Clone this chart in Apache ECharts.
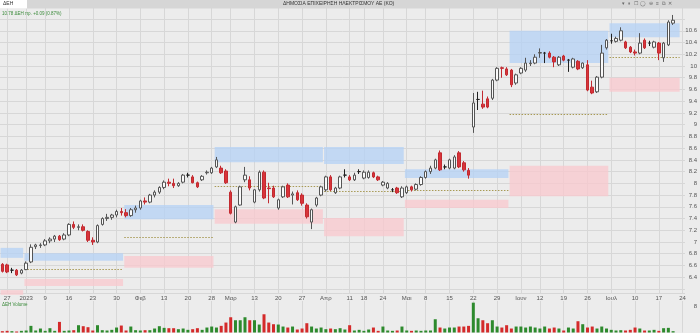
<!DOCTYPE html>
<html><head><meta charset="utf-8">
<script src="https://cdn.jsdelivr.net/npm/echarts@6/dist/echarts.min.js"></script>
<style>html,body{margin:0;padding:0;background:#ececec}#c{width:700px;height:333px}</style>
</head><body><div id="c"></div>
<script>
// ---- categories (trading days + two future days) ----
const dates = [
'2022-12-23','2022-12-27','2022-12-28','2022-12-29','2022-12-30',
'2023-01-02','2023-01-03','2023-01-04','2023-01-05',
'2023-01-09','2023-01-10','2023-01-11','2023-01-12','2023-01-13',
'2023-01-16','2023-01-17','2023-01-18','2023-01-19','2023-01-20',
'2023-01-23','2023-01-24','2023-01-25','2023-01-26','2023-01-27',
'2023-01-30','2023-01-31','2023-02-01','2023-02-02','2023-02-03',
'2023-02-06','2023-02-07','2023-02-08','2023-02-09','2023-02-10',
'2023-02-13','2023-02-14','2023-02-15','2023-02-16','2023-02-17',
'2023-02-20','2023-02-21','2023-02-22','2023-02-23','2023-02-24',
'2023-02-28','2023-03-01','2023-03-02','2023-03-03',
'2023-03-06','2023-03-07','2023-03-08','2023-03-09','2023-03-10',
'2023-03-13','2023-03-14','2023-03-15','2023-03-16','2023-03-17',
'2023-03-20','2023-03-21','2023-03-22','2023-03-23','2023-03-24',
'2023-03-27','2023-03-28','2023-03-29','2023-03-30','2023-03-31',
'2023-04-03','2023-04-04','2023-04-05','2023-04-06','2023-04-07',
'2023-04-11','2023-04-12','2023-04-13',
'2023-04-18','2023-04-19','2023-04-20','2023-04-21',
'2023-04-24','2023-04-25','2023-04-26','2023-04-27','2023-04-28',
'2023-05-02','2023-05-03','2023-05-04','2023-05-05',
'2023-05-08','2023-05-09','2023-05-10','2023-05-11','2023-05-12',
'2023-05-15','2023-05-16','2023-05-17','2023-05-18','2023-05-19',
'2023-05-22','2023-05-23','2023-05-24','2023-05-25','2023-05-26',
'2023-05-29','2023-05-30','2023-05-31','2023-06-01','2023-06-02',
'2023-06-06','2023-06-07','2023-06-08','2023-06-09',
'2023-06-12','2023-06-13','2023-06-14','2023-06-15','2023-06-16',
'2023-06-19','2023-06-20','2023-06-21','2023-06-22','2023-06-23',
'2023-06-26','2023-06-27','2023-06-28','2023-06-29','2023-06-30',
'2023-07-03','2023-07-04','2023-07-05','2023-07-06','2023-07-07',
'2023-07-10','2023-07-11','2023-07-12','2023-07-13','2023-07-14',
'2023-07-17','2023-07-18','2023-07-19','2023-07-20',
'2023-07-21','2023-07-24'
];
// ---- x tick labels ----
const tickDates  = ['2022-12-27','2023-01-02','2023-01-09','2023-01-16','2023-01-23','2023-01-30','2023-02-06','2023-02-13','2023-02-20','2023-02-28','2023-03-06','2023-03-13','2023-03-20','2023-03-27','2023-04-03','2023-04-11','2023-04-18','2023-04-24','2023-05-02','2023-05-08','2023-05-15','2023-05-22','2023-05-29','2023-06-06','2023-06-12','2023-06-19','2023-06-26','2023-07-03','2023-07-10','2023-07-17','2023-07-24'];
const tickLabels = ['27','2023','9','16','23','30','Φεβ','13','20','28','Μαρ','13','20','27','Απρ','11','18','24','Μαι','8','15','22','29','Ιουν','12','19','26','Ιουλ','10','17','24'];

// ---- OHLC ----
const opens = [6.62,6.61,6.52,6.52,6.47,6.53,6.66,6.92,6.94,6.95,7.02,7.05,7.10,7.05,7.12,7.30,7.25,7.26,7.18,7.03,7.00,7.30,7.40,7.42,7.46,7.52,7.50,7.45,7.55,7.58,7.70,7.68,7.80,7.85,7.93,8.02,8.00,7.96,8.02,8.14,8.11,8.01,8.06,8.18,8.18,8.28,8.26,8.21,7.85,7.34,7.63,8.06,8.06,7.68,7.89,8.19,7.92,7.92,7.58,7.77,7.97,7.80,7.84,7.80,7.63,7.34,7.63,7.80,7.89,8.11,7.84,7.92,8.14,8.11,8.06,8.20,8.09,8.10,8.18,8.11,7.97,7.92,7.89,7.92,7.77,7.84,7.94,7.90,7.98,8.10,8.20,8.26,8.52,8.28,8.26,8.26,8.52,8.35,8.22,8.96,9.43,9.35,9.44,9.45,9.76,9.97,9.95,9.93,9.71,9.88,9.93,10.04,10.05,10.22,10.22,10.22,10.15,10.02,10.17,10.10,9.98,10.08,9.97,10.02,9.64,9.56,9.81,10.31,10.43,10.42,10.44,10.41,10.32,10.24,10.22,10.44,10.39,10.32,10.39,10.14,10.36,10.73];
const highs = [6.64,6.63,6.56,6.54,6.54,6.67,6.96,6.97,6.98,7.05,7.08,7.12,7.12,7.15,7.32,7.35,7.30,7.30,7.20,7.08,7.30,7.42,7.48,7.48,7.55,7.58,7.56,7.58,7.62,7.72,7.76,7.82,7.88,7.95,8.05,8.08,8.08,8.02,8.16,8.18,8.14,8.03,8.14,8.22,8.28,8.45,8.30,8.24,7.88,7.62,7.96,8.28,8.12,7.90,8.22,8.22,8.01,7.96,7.74,7.96,8.00,7.86,7.88,7.83,7.66,7.57,7.77,7.96,8.13,8.14,7.94,8.13,8.24,8.14,8.18,8.24,8.22,8.22,8.20,8.13,8.04,8.02,7.92,7.94,7.95,7.96,7.96,8.00,8.12,8.22,8.30,8.42,8.56,8.32,8.42,8.48,8.55,8.38,8.26,9.54,9.56,9.58,9.48,9.78,9.98,9.99,9.98,9.95,9.87,9.98,10.14,10.10,10.20,10.30,10.24,10.25,10.17,10.17,10.19,10.12,10.14,10.10,10.06,10.10,9.75,9.83,10.36,10.46,10.55,10.50,10.66,10.43,10.34,10.28,10.56,10.47,10.43,10.43,10.41,10.41,10.78,10.87];
const lows = [6.48,6.47,6.47,6.42,6.45,6.52,6.64,6.88,6.90,6.93,6.98,7.00,7.02,7.03,7.10,7.22,7.20,7.18,7.00,6.95,6.98,7.28,7.36,7.38,7.42,7.45,7.42,7.43,7.50,7.55,7.64,7.66,7.76,7.82,7.90,7.95,7.92,7.94,8.00,8.10,8.00,7.92,8.04,8.15,8.16,8.26,8.16,7.99,7.47,7.32,7.62,8.02,7.88,7.66,7.86,7.73,7.66,7.75,7.55,7.75,7.75,7.64,7.70,7.62,7.40,7.22,7.60,7.78,7.86,7.87,7.82,7.90,8.10,8.04,8.04,8.16,8.07,8.08,8.09,8.04,7.95,7.90,7.85,7.82,7.75,7.82,7.86,7.88,7.96,8.08,8.16,8.24,8.21,8.24,8.24,8.24,8.26,8.20,8.08,8.86,9.25,9.27,9.28,9.42,9.74,9.80,9.83,9.64,9.68,9.86,9.90,10.00,10.03,10.14,10.05,10.13,9.98,10.00,10.08,9.90,9.96,9.93,9.95,9.57,9.52,9.54,9.79,10.28,10.38,10.40,10.42,10.29,10.22,10.18,10.20,10.29,10.34,10.30,10.10,10.07,10.34,10.70];
const closes = [6.50,6.49,6.52,6.44,6.52,6.64,6.91,6.95,6.95,7.02,7.05,7.10,7.04,7.12,7.30,7.25,7.26,7.20,7.03,7.00,7.28,7.40,7.42,7.46,7.52,7.50,7.45,7.55,7.58,7.70,7.68,7.80,7.85,7.93,8.02,8.00,7.96,8.00,8.14,8.14,8.01,7.94,8.12,8.19,8.26,8.40,8.18,8.01,7.49,7.60,7.94,8.14,7.92,7.89,8.19,7.75,7.91,7.77,7.72,7.94,7.77,7.82,7.72,7.66,7.43,7.55,7.75,7.94,8.11,7.89,7.92,8.11,8.14,8.06,8.14,8.20,8.19,8.19,8.11,8.06,8.02,8.00,7.89,7.84,7.92,7.94,7.89,7.98,8.10,8.20,8.26,8.40,8.23,8.28,8.40,8.45,8.28,8.23,8.14,9.37,9.43,9.30,9.30,9.76,9.96,9.96,9.85,9.68,9.85,9.96,10.05,10.05,10.15,10.23,10.22,10.15,10.07,10.15,10.10,10.10,10.12,9.95,10.05,9.59,9.54,9.81,10.22,10.44,10.43,10.47,10.60,10.31,10.24,10.22,10.39,10.31,10.39,10.41,10.22,10.39,10.75,10.78];
// ---- volume (millions) ----
const volumes = [0.4,0.5,0.4,0.3,0.5,0.6,2.0,0.6,1.2,0.5,1.3,0.5,3.2,0.5,0.6,0.7,2.2,1.9,1.6,0.6,2.2,0.7,0.6,0.8,1.5,2.1,0.6,1.8,0.7,0.6,0.7,0.7,1.2,1.9,1.4,1.3,1.3,1.0,1.2,0.8,1.0,1.3,0.8,1.5,1.8,1.5,2.0,3.0,4.6,3.7,3.7,4.6,3.7,3.7,2.4,5.5,3.0,2.5,2.4,1.8,1.5,1.8,0.9,1.2,2.8,1.8,1.2,1.5,1.0,1.2,1.0,1.3,0.9,2.2,0.6,0.8,0.5,0.9,1.5,0.5,1.8,0.6,0.5,0.6,1.8,0.6,0.5,0.6,0.5,0.6,0.6,4.0,1.5,1.2,1.5,1.5,1.8,1.8,2.0,9.0,4.3,3.7,2.8,3.7,1.8,1.5,2.2,1.2,1.8,1.8,1.5,1.8,1.5,1.2,1.8,1.2,1.5,1.2,0.6,1.5,1.2,3.4,2.5,1.5,1.8,1.2,1.8,1.2,0.8,0.6,0.7,0.6,0.8,1.5,1.2,0.6,0.6,0.8,0.5,1.3,1.4,0.4];

// ---- monthly zones: blue band, red band, pivot line ----
const zoneStart = ['2022-12-23','2023-01-02','2023-02-01','2023-03-01','2023-04-03','2023-05-02','2023-06-01','2023-07-03'];
const zoneEnd   = ['2022-12-30','2023-01-31','2023-02-28','2023-03-31','2023-04-28','2023-05-31','2023-06-30','2023-07-21'];
const blueLow   = [6.73,6.68,7.39,8.36,8.33,8.09,10.05,10.49];
const blueHigh  = [6.90,6.81,7.63,8.62,8.62,8.24,10.60,10.73];
const redLow    = [6.10,6.25,6.56,7.31,7.10,7.58,7.78,9.56];
const redHigh   = [6.18,6.37,6.76,7.56,7.41,7.72,8.30,9.80];
const pivots    = [null,6.54,7.09,7.96,7.87,7.89,9.18,10.15];

const tickMap = {};
tickDates.forEach((d,i)=>tickMap[d]=tickLabels[i]);
const showTick = (idx, val) => !!tickMap[dates[idx]];

const candleData = opens.map((o,i)=>[o, closes[i], lows[i], highs[i]]);
const volData = volumes.map((v,i)=>({value:v, itemStyle:{color: closes[i] >= opens[i] ? '#2d8a2d' : '#d42a2a'}}));
const zoneData = zoneStart.map((s,i)=>[dates.indexOf(s), dates.indexOf(zoneEnd[i]), blueLow[i], blueHigh[i], redLow[i], redHigh[i], pivots[i] == null ? NaN : pivots[i]]);
const lastClose = closes[closes.length-1];
const curPivot = pivots[pivots.length-1];
const lastVol = volumes[volumes.length-1];

function zoneItem(params, api){
  const s = api.value(0), e = api.value(1);
  const bw = api.size([1,0])[0];
  const x0 = api.coord([s, 0])[0] - bw/2 + 0.6;
  const x1 = api.coord([e, 0])[0] + bw/2 - 0.6;
  const yb1 = api.coord([s, api.value(3)])[1], yb0 = api.coord([s, api.value(2)])[1];
  const yr1 = api.coord([s, api.value(5)])[1], yr0 = api.coord([s, api.value(4)])[1];
  const children = [
    {type:'rect', shape:{x:x0, y:yb1, width:x1-x0, height:yb0-yb1}, style:{fill:'rgba(180,210,245,0.75)'}},
    {type:'rect', shape:{x:x0, y:yr1, width:x1-x0, height:yr0-yr1}, style:{fill:'rgba(250,200,205,0.75)'}}
  ];
  const pv = api.value(6);
  if (!isNaN(pv)) {
    const yp = Math.round(api.coord([s, pv])[1]) + 0.5;
    children.push({type:'line', shape:{x1:x0, y1:yp, x2:x1, y2:yp}, style:{stroke:'#a89a55', lineWidth:1, lineDash:[1.5,1.5]}});
  }
  return {type:'group', children};
}

const fmtY = v => (v > 10.7 || v < 6.3) ? '' : String(Math.round(v*10)/10);

const chart = echarts.init(document.getElementById('c'), null, {renderer:'canvas'});
chart.setOption({
  animation:false,
  backgroundColor:'#ececec',
  textStyle:{fontFamily:'Liberation Sans, Arial, sans-serif'},
  grid:[
    {left:-1.2, width:688.3, top:0, height:293},
    {left:-1.2, width:688.3, top:301, height:31.5}
  ],
  xAxis:[
    {type:'category', data:dates, gridIndex:0, boundaryGap:true,
     axisLine:{show:false}, axisTick:{show:false, alignWithLabel:true, interval:showTick},
     axisLabel:{interval:showTick, formatter:v=>tickMap[v]||'', fontSize:6, color:'#555', margin:2},
     splitLine:{show:true, alignWithLabel:true, interval:showTick, lineStyle:{color:'#d7d7d7', width:1}}},
    {type:'category', data:dates, gridIndex:1, boundaryGap:true,
     axisLine:{show:false}, axisTick:{show:false, alignWithLabel:true, interval:showTick},
     axisLabel:{show:false},
     splitLine:{show:true, alignWithLabel:true, interval:showTick, lineStyle:{color:'#d7d7d7', width:1}}}
  ],
  yAxis:[
    {type:'value', gridIndex:0, position:'right', min:6.131, max:11.125, splitNumber:24,
     axisLine:{show:false}, axisTick:{show:false},
     axisLabel:{formatter:fmtY, fontSize:6, color:'#555', align:'right', margin:12},
     splitLine:{show:true, lineStyle:{color:'#d7d7d7', width:1}}},
    {type:'value', gridIndex:1, position:'right', min:0, max:9.5, interval:8,
     axisLine:{show:false}, axisTick:{show:false},
     axisLabel:{formatter:v=>v===8?'8':'', fontSize:6, color:'#555', align:'right', margin:12},
     splitLine:{show:false}}
  ],
  series:[
    {type:'custom', xAxisIndex:0, yAxisIndex:0, renderItem:zoneItem, data:zoneData, z:1, silent:true,
     encode:{x:[0,1], y:[2,3]}},
    {type:'candlestick', xAxisIndex:0, yAxisIndex:0, data:candleData, z:5, barWidth:3,
     itemStyle:{color:'#fafafa', color0:'#d8343a', borderColor:'#555', borderColor0:'#c22a30', borderColorDoji:'#222', borderWidth:1},
     markLine:{symbol:'none', silent:true, animation:false,
       lineStyle:{opacity:0},
       data:[
         {yAxis:lastClose, label:{show:true, position:'end', distance:1, formatter:lastClose.toFixed(2), backgroundColor:'#3fb34f', color:'#0c2f10', fontSize:5, padding:[1,2], borderRadius:2}},
         {yAxis:curPivot, label:{show:true, position:'end', distance:1, formatter:curPivot.toFixed(2), backgroundColor:'#c9bf5e', color:'#3a3310', fontSize:5, padding:[1,2], borderRadius:2}}
       ]}},
    {type:'bar', xAxisIndex:1, yAxisIndex:1, data:volData, barWidth:3,
     markLine:{symbol:'none', silent:true, animation:false, lineStyle:{opacity:0},
       data:[{yAxis:lastVol, label:{show:true, position:'end', distance:1, formatter:'0.4M', backgroundColor:'#3fb34f', color:'#0c2f10', fontSize:5, padding:[1,2], borderRadius:2}}]}}
  ],
  graphic:[
    {type:'rect', z:100, shape:{x:0, y:0, width:700, height:8.5}, style:{fill:'#d6d6d6'}},
    {type:'rect', z:101, shape:{x:0, y:0, width:27, height:8.5}, style:{fill:'#ffffff'}},
    {type:'text', z:102, left:3, top:1.5, style:{text:'ΔΕΗ', fontSize:5, fill:'#333'}},
    {type:'text', z:102, left:283, top:1.5, style:{text:'ΔΗΜΟΣΙΑ ΕΠΙΧΕΙΡΗΣΗ ΗΛΕΚΤΡΙΣΜΟΥ ΑΕ (ΚΟ)', fontSize:5, fill:'#333'}},
    {type:'text', z:102, left:622, top:1, style:{text:'▾  ⏸  ☐  ◯  ⊖  ≡  ⧉  ✕', fontSize:5, fill:'#666'}},
    {type:'text', z:102, left:2, top:11, style:{text:'10.78 ΔΕΗ πρ. +0.09 (0.87%)', fontSize:4.5, fill:'#3a8a3a'}},
    {type:'text', z:102, left:2, top:302, style:{text:'ΔΕΗ Volume', fontSize:4.5, fill:'#3a8a3a'}}
  ]
});
</script>
</body></html>
